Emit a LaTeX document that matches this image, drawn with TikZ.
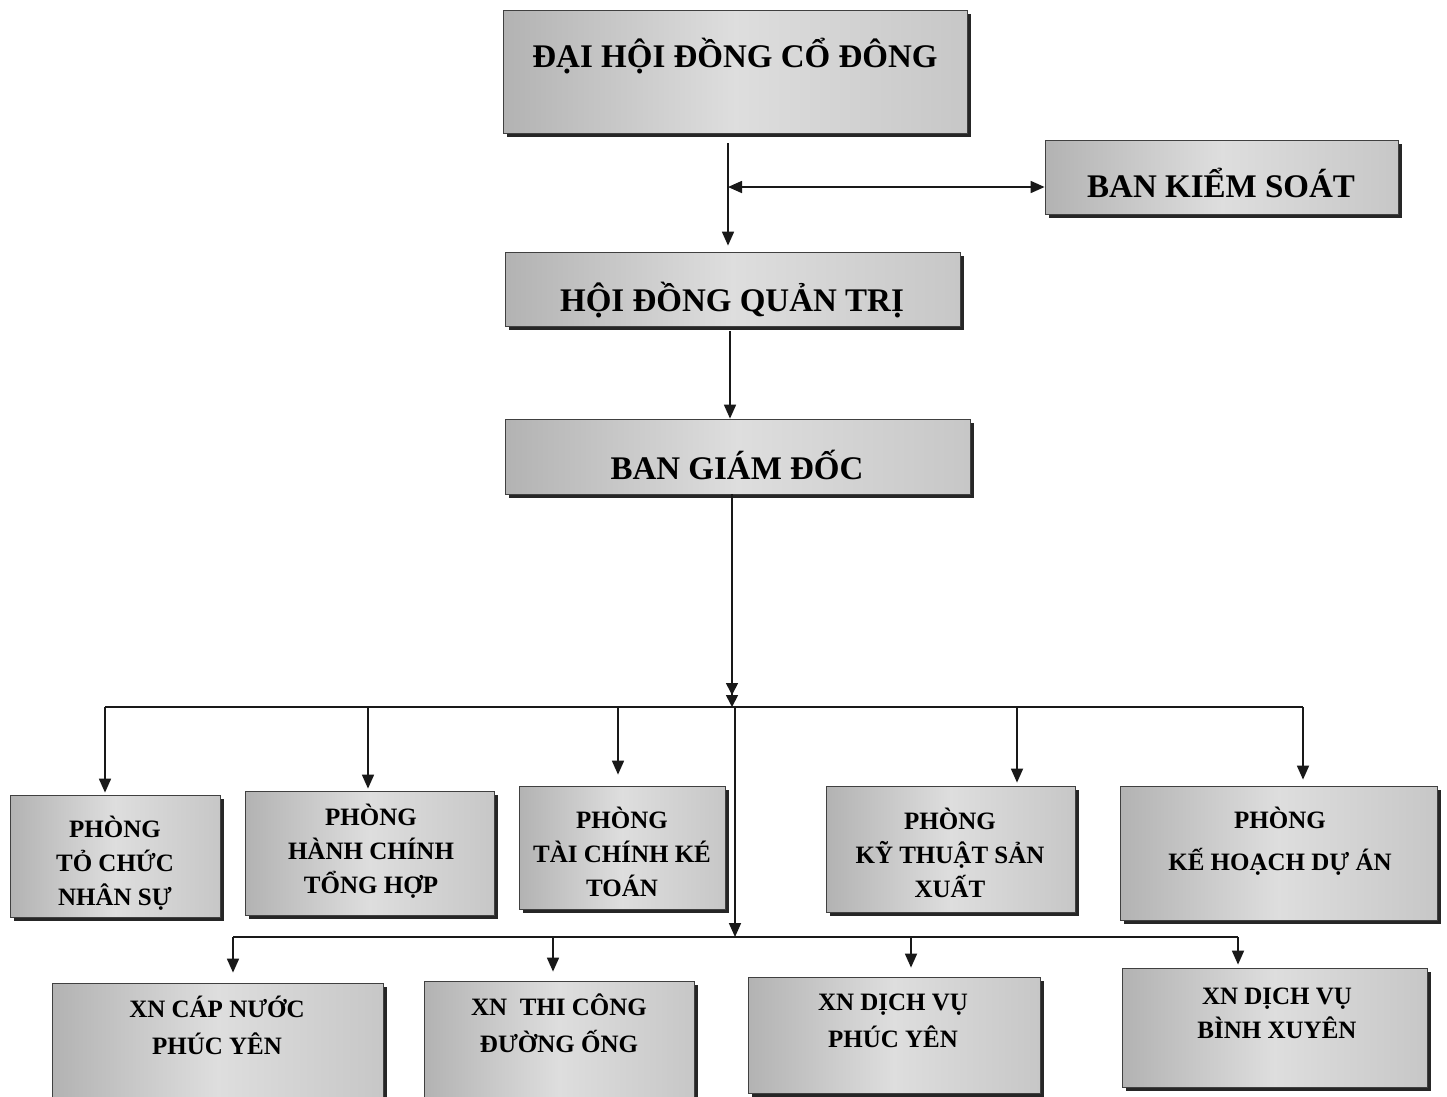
\documentclass[tikz,border=0pt]{standalone}
\usepackage{fontspec}
\setmainfont{Liberation Serif}
\usetikzlibrary{arrows.meta,shadows,calc}
\pgfdeclarehorizontalshading{boxshade}{100bp}{color(0bp)=(black!36); color(25bp)=(black!30); color(50bp)=(black!13); color(75bp)=(black!22); color(100bp)=(black!34)}
\begin{document}
\begin{tikzpicture}[x=1pt,y=-1pt,
  boxshape/.style={draw=black!75, line width=0.8pt, rectangle, inner sep=0pt,
    shade, shading=boxshade,
    drop shadow={shadow xshift=3.5pt, shadow yshift=-3.5pt, fill=black!85, opacity=1}},
  bigtxt/.style={font=\fontsize{33}{38}\selectfont\bfseries, inner sep=0pt},
  smalltxt/.style={font=\fontsize{25}{34}\selectfont\bfseries, inner sep=0pt, align=center},
  ln/.style={line width=1.7pt, black!90},
  arr/.style={ln, -{Triangle[width=12pt,length=14pt]}},
  arrboth/.style={ln, {Triangle[width=12pt,length=14pt]}-{Triangle[width=12pt,length=14pt]}},
  arrdbl/.style={ln, -{Triangle[width=12pt,length=12pt]Triangle[width=12pt,length=12pt]}}
]
\useasboundingbox[fill=white] (0,0) rectangle (1447,1096);

% top boxes
\node[boxshape, minimum width=464pt, minimum height=123pt] (dh) at (735,71.5) {};
\node[bigtxt] (dht) at (735,56) {ĐẠI HỘI ĐỒNG CỔ ĐÔNG};

\node[boxshape, minimum width=353pt, minimum height=74pt] (bks) at (1221.5,177) {};
\node[bigtxt] (bkst) at (1221,183) {BAN KIỂM SOÁT};

\node[boxshape, minimum width=455pt, minimum height=74pt] (hdqt) at (732.5,289) {};
\node[bigtxt] (hdqtt) at (732,300) {HỘI ĐỒNG QUẢN TRỊ};

\node[boxshape, minimum width=465pt, minimum height=75pt] (bgd) at (737.5,456.5) {};
\node[bigtxt] (bgdt) at (737,465) {BAN GIÁM ĐỐC};

% row 1
\node[boxshape, minimum width=210pt, minimum height=122pt] (tcns) at (115,856) {};
\node[smalltxt] (tcnst) at (115,863) {PHÒNG\\TỎ CHỨC\\NHÂN SỰ};

\node[boxshape, minimum width=249pt, minimum height=124pt] (hcth) at (369.5,853) {};
\node[smalltxt] (hctht) at (371,851) {PHÒNG\\HÀNH CHÍNH\\TỔNG HỢP};

\node[boxshape, minimum width=206pt, minimum height=123pt] (tckt) at (622,847.5) {};
\node[smalltxt] (tcktt) at (622,852) {PHÒNG\\TÀI CHÍNH KÉ\\TOÁN};

\node[boxshape, minimum width=249pt, minimum height=126pt] (ktsx) at (950.5,849) {};
\node[smalltxt] (ktsxt) at (950,853) {PHÒNG\\KỸ THUẬT SẢN\\XUẤT};

\node[boxshape, minimum width=317pt, minimum height=134pt] (khda) at (1278.5,853) {};
\node[smalltxt, font=\fontsize{25}{42}\selectfont\bfseries] (khdat) at (1280,841) {PHÒNG\\KẾ HOẠCH DỰ ÁN};

% row 2
\node[boxshape, minimum width=331pt, minimum height=127pt] (xn1) at (217.5,1046.5) {};
\node[smalltxt, font=\fontsize{25}{37}\selectfont\bfseries] (xn1t) at (217,1025) {XN CÁP NƯỚC\\PHÚC YÊN};

\node[boxshape, minimum width=270pt, minimum height=129pt] (xn2) at (559,1045.5) {};
\node[smalltxt, font=\fontsize{25}{37}\selectfont\bfseries] (xn2t) at (559,1023) {XN~ THI CÔNG\\ĐƯỜNG ỐNG};

\node[boxshape, minimum width=292pt, minimum height=116pt] (xn3) at (894,1035) {};
\node[smalltxt, font=\fontsize{25}{37}\selectfont\bfseries] (xn3t) at (893,1021) {XN DỊCH VỤ\\PHÚC YÊN};

\node[boxshape, minimum width=305pt, minimum height=119pt] (xn4) at (1274.5,1027.5) {};
\node[smalltxt, font=\fontsize{25}{34}\selectfont\bfseries] (xn4t) at (1277,1013) {XN DỊCH VỤ\\BÌNH XUYÊN};

% connectors top
\coordinate (j0) at (728,187);
\draw[arr] ($(dh.south)+(-7,10)$) -- ($(hdqt.north)+(-4.5,-6)$);
\draw[arrboth] (j0) -- (j0 -| bks.west);
\draw[arr] ($(hdqt.south)+(-2.5,5)$) -- ($(bgd.north)+(-7.5,0)$);

% bus 1
\coordinate (b1L) at (105,707);
\coordinate (b1R) at (1303,707);
\coordinate (b1c) at (732,707);
\coordinate (b1m) at (735,707);
\coordinate (b1b) at (368,707);
\coordinate (b1d) at (618,707);
\coordinate (b1e) at (1017,707);
\draw[arrdbl] ($(bgd.south)+(-5.5,0)$) -- (b1c);
\draw[ln] (b1L) -- (b1R);
\draw[arr, shorten >=2pt] (b1L) -- (b1L |- tcns.north);
\draw[arr, shorten >=2pt] (b1b) -- (b1b |- hcth.north);
\draw[arr, shorten >=11pt] (b1d) -- (b1d |- tckt.north);
\draw[arr, shorten >=3pt] (b1e) -- (b1e |- ktsx.north);
\draw[arr, shorten >=6pt] (b1R) -- (b1R |- khda.north);

% bus 2
\coordinate (b2c) at (735,937);
\coordinate (b2a) at (233,937);
\coordinate (b2b) at (553,937);
\coordinate (b2d) at (911,937);
\coordinate (b2e) at (1238,937);
\draw[arr] (b1m) -- (b2c);
\draw[ln] (b2a) -- (b2e);
\draw[arr, shorten >=10pt] (b2a) -- (b2a |- xn1.north);
\draw[arr, shorten >=9pt] (b2b) -- (b2b |- xn2.north);
\draw[arr, shorten >=9pt] (b2d) -- (b2d |- xn3.north);
\draw[arr, shorten >=3pt] (b2e) -- (b2e |- xn4.north);
\end{tikzpicture}
\end{document}
